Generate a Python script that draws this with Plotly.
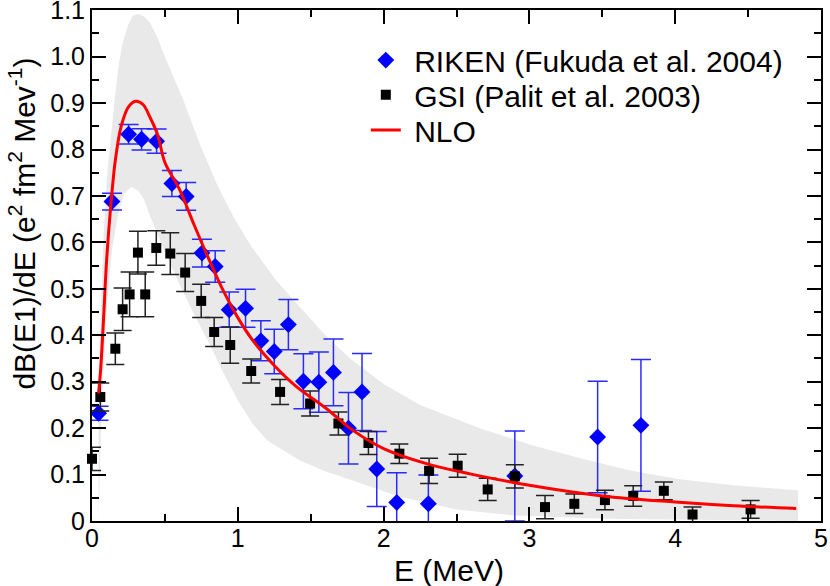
import plotly.graph_objects as go

# RIKEN (Fukuda et al. 2004)
riken_e = [0.045, 0.137, 0.251, 0.340, 0.443, 0.548, 0.646, 0.754, 0.845, 0.941, 1.053, 1.158, 1.250,
           1.347, 1.450, 1.556, 1.656, 1.759, 1.852, 1.953, 2.090, 2.307, 2.900, 3.468, 3.765]
riken_y = [0.232, 0.688, 0.833, 0.822, 0.818, 0.727, 0.699, 0.577, 0.548, 0.455, 0.458, 0.388, 0.365,
           0.423, 0.301, 0.299, 0.320, 0.200, 0.278, 0.112, 0.040, 0.037, 0.097, 0.181, 0.206]
riken_err = [0.015, 0.018, 0.021, 0.023, 0.026, 0.028, 0.030, 0.030, 0.034, 0.038, 0.041, 0.043, 0.048,
             0.054, 0.059, 0.065, 0.072, 0.077, 0.083, 0.081, 0.064, 0.062, 0.097, 0.120, 0.142]

# GSI (Palit et al. 2003)
gsi_e = [0.000, 0.057, 0.160, 0.210, 0.258, 0.315, 0.365, 0.441, 0.537, 0.639, 0.749, 0.838, 0.948,
         1.092, 1.290, 1.496, 1.690, 1.896, 2.108, 2.312, 2.508, 2.714, 2.900, 3.107, 3.308, 3.518,
         3.712, 3.922, 4.119, 4.517]
gsi_y = [0.134, 0.267, 0.371, 0.456, 0.488, 0.578, 0.488, 0.588, 0.576, 0.535, 0.474, 0.407, 0.379,
         0.323, 0.278, 0.253, 0.210, 0.168, 0.145, 0.108, 0.119, 0.068, 0.096, 0.030, 0.037, 0.045,
         0.054, 0.065, 0.014, 0.025]
gsi_err = [0.025, 0.030, 0.034, 0.046, 0.048, 0.046, 0.048, 0.037, 0.045, 0.041, 0.036, 0.031, 0.039,
           0.026, 0.027, 0.027, 0.025, 0.025, 0.021, 0.027, 0.025, 0.024, 0.025, 0.025, 0.021, 0.021,
           0.022, 0.019, 0.016, 0.019]

# NLO curve
nlo_e = [0.045, 0.06, 0.08, 0.10, 0.125, 0.16, 0.20, 0.25, 0.30, 0.35, 0.40, 0.45, 0.50, 0.60, 0.70,
         0.80, 0.90, 1.00, 1.10, 1.25, 1.40, 1.60, 1.80, 2.00, 2.30, 2.60, 3.00, 3.50, 4.00, 4.40, 4.83]
nlo_y = [0.275, 0.33, 0.44, 0.56, 0.665, 0.777, 0.85, 0.892, 0.904, 0.897, 0.868, 0.832, 0.772, 0.714,
         0.638, 0.565, 0.496, 0.438, 0.390, 0.335, 0.290, 0.244, 0.193, 0.156, 0.123, 0.101, 0.077,
         0.054, 0.041, 0.033, 0.027]

# uncertainty band
band_up_e = [0.045, 0.06, 0.08, 0.105, 0.137, 0.16, 0.18, 0.21, 0.25, 0.28, 0.32, 0.36, 0.40, 0.45,
             0.50, 0.56, 0.628, 0.742, 0.857, 0.97, 1.085, 1.27, 1.43, 1.60, 1.77, 2.00, 2.25, 2.66,
             3.00, 3.35, 3.70, 4.03, 4.40, 4.843]
band_up_y = [0.30, 0.46, 0.62, 0.75, 0.855, 0.92, 0.975, 1.03, 1.07, 1.088, 1.092, 1.086, 1.072, 1.04,
             1.00, 0.955, 0.905, 0.81, 0.725, 0.655, 0.595, 0.515, 0.46, 0.40, 0.35, 0.295, 0.25, 0.20,
             0.165, 0.135, 0.108, 0.09, 0.077, 0.066]
band_lo_e = [0.045, 0.06, 0.08, 0.10, 0.12, 0.14, 0.16, 0.18, 0.22, 0.27, 0.32, 0.36, 0.40, 0.50,
             0.60, 0.70, 0.80, 0.90, 1.00, 1.10, 1.20, 1.43, 1.60, 1.77, 2.11, 2.50, 2.90, 3.50, 4.20, 4.843]
band_lo_y = [0.0, 0.18, 0.33, 0.45, 0.53, 0.59, 0.63, 0.662, 0.705, 0.72, 0.71, 0.69, 0.655, 0.58,
             0.51, 0.445, 0.385, 0.32, 0.26, 0.21, 0.174, 0.13, 0.107, 0.088, 0.052, 0.025, 0.012, 0.005,
             0.002, 0.0]

y_tick_vals = [0, 0.1, 0.2, 0.3, 0.4, 0.5, 0.6, 0.7, 0.8, 0.9, 1.0, 1.1]
y_tick_text = ['0', '0.1', '0.2', '0.3', '0.4', '0.5', '0.6', '0.7', '0.8', '0.9', '1.0', '1.1']

font = 'Liberation Sans, Arial, sans-serif'
nb = '\u00a0'

fig = go.Figure()

# band first so it sits under everything
fig.add_trace(go.Scatter(x=band_up_e + band_lo_e[::-1], y=band_up_y + band_lo_y[::-1],
                         fill='toself', fillcolor='#e9e9e9', mode='lines',
                         line=dict(width=0),
                         showlegend=False, hoverinfo='skip'))

fig.add_trace(go.Scatter(x=riken_e, y=riken_y, mode='markers', name=nb + 'RIKEN (Fukuda et al. 2004)',
                         marker=dict(symbol='diamond', size=13, color='#0000ff'),
                         error_y=dict(type='data', array=riken_err, color='#2a2aff',
                                      thickness=1.5, width=10),
                         legend='legend'))

fig.add_trace(go.Scatter(x=gsi_e, y=gsi_y, mode='markers', name=nb + 'GSI (Palit et al. 2003)',
                         marker=dict(symbol='square', size=10, color='black'),
                         error_y=dict(type='data', array=gsi_err, color='#222222',
                                      thickness=1.5, width=9),
                         cliponaxis=False, legend='legend2'))

fig.add_trace(go.Scatter(x=nlo_e, y=nlo_y, mode='lines', name=nb + 'NLO',
                         line=dict(color='#ff0000', width=3, shape='spline'),
                         legend='legend3'))

axis_common = dict(showline=True, linecolor='black', linewidth=2, mirror='ticks',
                   ticks='inside', ticklen=14, tickwidth=1.5, tickcolor='black',
                   showgrid=False, zeroline=False, automargin=False, ticklabeloverflow='allow',
                   tickfont=dict(family=font, size=25, color='black'))

fig.update_xaxes(range=[0, 5], dtick=1, tick0=0,
                 minor=dict(dtick=0.5, ticks='inside', ticklen=7, tickwidth=1.5, tickcolor='black'),
                 ticklabelstandoff=-6,
                 **axis_common)
fig.update_yaxes(range=[0, 1.1005], tickvals=y_tick_vals, ticktext=y_tick_text,
                 minor=dict(dtick=0.05, ticks='inside', ticklen=7, tickwidth=1.5, tickcolor='black'),
                 ticklabelstandoff=0,
                 **axis_common)

fig.add_annotation(text='dB(E1)/dE (e<sup>2</sup> fm<sup>2</sup> Mev<sup>-1</sup>)',
                   xref='paper', yref='paper', x=-0.096, y=0.582, textangle=-90,
                   showarrow=False, xanchor='center', yanchor='middle',
                   font=dict(family=font, size=30, color='black'))
fig.add_annotation(text='E (MeV)', xref='paper', yref='paper', x=0.49, y=-0.0965,
                   showarrow=False, xanchor='center', yanchor='middle',
                   font=dict(family=font, size=30, color='black'))

leg = dict(x=0.3756, xanchor='left', yanchor='middle', bgcolor='rgba(0,0,0,0)', borderwidth=0,
           font=dict(family=font, size=30, color='black'))

fig.update_layout(width=830, height=586,
                  margin=dict(l=92, r=9, t=10, b=65),
                  plot_bgcolor='white', paper_bgcolor='white',
                  showlegend=True,
                  legend=dict(leg, y=0.902),
                  legend2=dict(leg, y=0.834),
                  legend3=dict(leg, y=0.765))

fig.write_html('out.html', config={'displayModeBar': False},
               post_script="document.body.style.margin='0';")
